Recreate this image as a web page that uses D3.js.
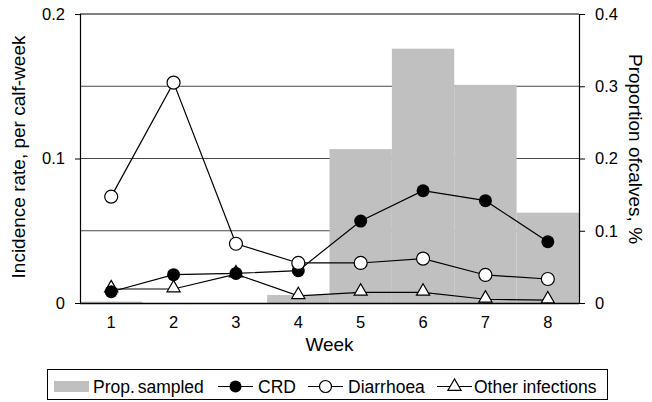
<!DOCTYPE html>
<html>
<head>
<meta charset="utf-8">
<script src="https://cdn.jsdelivr.net/npm/d3@7"></script>
<style>
  body{margin:0;background:#fff;}
  text{font-family:"Liberation Sans",Arial,sans-serif;fill:#000;}
</style>
</head>
<body>
<div id="chart"></div>
<script>
const weeks=[1,2,3,4,5,6,7,8];
const propSampled=[0.002,0,0,0.011,0.213,0.352,0.302,0.125];
const crd=[0.0078,0.0196,0.0205,0.0224,0.0567,0.0777,0.0708,0.0424];
const diarrhoea=[0.0736,0.1525,0.041,0.0277,0.0277,0.0307,0.0194,0.0166];
const other=[0.0097,0.0097,0.02,0.005,0.0074,0.0074,0.0026,0.002];
const leftTicks=[0,0.1,0.2];
const rightTicks=[0,0.1,0.2,0.3,0.4];
const gridVals=[0.05,0.1,0.15];

const w=652, h=402;
const pl=80, pr=579, pt=14, pb=303;

const svg=d3.select("#chart").append("svg").attr("width",w).attr("height",h);

const x=d3.scaleBand().domain(weeks).range([pl,pr]).padding(0);
const yL=d3.scaleLinear().domain([0,0.2]).range([pb,pt]);
const yR=d3.scaleLinear().domain([0,0.4]).range([pb,pt]);

// gridlines
svg.selectAll(".grid").data(gridVals).enter().append("line")
   .attr("x1",pl).attr("x2",pr)
   .attr("y1",d=>yL(d)).attr("y2",d=>yL(d))
   .attr("stroke","#4a4a4a").attr("stroke-width",1);

// bars
svg.selectAll(".bar").data(weeks).enter().append("rect")
   .attr("x",d=>x(d))
   .attr("width",x.bandwidth())
   .attr("y",(d,i)=>yR(propSampled[i]))
   .attr("height",(d,i)=>pb-yR(propSampled[i]))
   .attr("fill","#c0c0c0");

// top border
svg.append("line").attr("x1",pl).attr("x2",pr).attr("y1",pt).attr("y2",pt)
   .attr("stroke","#000").attr("stroke-width",1.2);

const fmt=d=>d===0?"0":d3.format(".1f")(d);

const yAxisL=d3.axisLeft(yL).tickValues(leftTicks).tickFormat(fmt).tickSize(5).tickPadding(10);
svg.append("g").attr("transform",`translate(${pl},0)`).call(yAxisL)
   .call(g=>g.selectAll("text").style("font-size","16.5px"))
   .call(g=>g.select(".domain").attr("stroke-width",1.2));

const yAxisR=d3.axisRight(yR).tickValues(rightTicks).tickFormat(fmt).tickSize(6).tickPadding(10);
svg.append("g").attr("transform",`translate(${pr},0)`).call(yAxisR)
   .call(g=>g.selectAll("text").style("font-size","16.5px"))
   .call(g=>g.select(".domain").attr("stroke-width",1.2));

const xAxis=d3.axisBottom(x).tickSize(0).tickPadding(13);
svg.append("g").attr("transform",`translate(0,${pb})`).call(xAxis)
   .call(g=>g.selectAll("text").style("font-size","16.5px"))
   .call(g=>g.select(".domain").attr("d",`M${pl},0.5H${pr}`).attr("stroke-width",1.5));

const cx=d=>x(d)+x.bandwidth()/2;
const line=arr=>d3.line().x(d=>cx(d)).y((d,i)=>yL(arr[i]))(weeks);

[other,crd,diarrhoea].forEach(arr=>{
  svg.append("path").attr("d",line(arr)).attr("fill","none").attr("stroke","#000").attr("stroke-width",1.2);
});

const tri=d3.symbol().type(d3.symbolTriangle).size(75);
svg.selectAll(".tri").data(weeks).enter().append("path")
   .attr("d",tri)
   .attr("transform",(d,i)=>`translate(${cx(d)},${yL(other[i])-1})`)
   .attr("fill","#fff").attr("stroke","#000").attr("stroke-width",1.2);

svg.selectAll(".crd").data(weeks).enter().append("circle")
   .attr("cx",cx).attr("cy",(d,i)=>yL(crd[i])).attr("r",6.5)
   .attr("fill","#000");

svg.selectAll(".dia").data(weeks).enter().append("circle")
   .attr("cx",cx).attr("cy",(d,i)=>yL(diarrhoea[i])).attr("r",6.5)
   .attr("fill","#fff").attr("stroke","#000").attr("stroke-width",1.2);

// axis titles
svg.append("text").text("Week").attr("x",(pl+pr)/2).attr("y",351)
   .attr("text-anchor","middle").style("font-size","19px");
svg.append("text").text("Incidence rate, per calf-week")
   .attr("transform",`translate(25,157) rotate(-90)`)
   .attr("text-anchor","middle").style("font-size","19px");
svg.append("text").text("Proportion ofcalves, %")
   .attr("transform",`translate(629,149) rotate(90)`)
   .attr("text-anchor","middle").style("font-size","19px");

// legend
const lg=svg.append("g");
lg.append("rect").attr("x",47.5).attr("y",369.5).attr("width",560).attr("height",30)
  .attr("fill","#fff").attr("stroke","#000").attr("stroke-width",1);
lg.append("rect").attr("x",54).attr("y",381).attr("width",35).attr("height",11).attr("fill","#c0c0c0");
const ly=386.5;
const legItems=[
  {x1:218,x2:253,type:"crd",label:"CRD",tx:258},
  {x1:308,x2:343,type:"dia",label:"Diarrhoea",tx:348},
  {x1:437,x2:472,type:"oth",label:"Other infections",tx:474}
];
lg.append("text").text("Prop. sampled").attr("x",93).attr("y",392.5)
  .style("font-size","17.5px").style("word-spacing","-2px");
legItems.forEach(it=>{
  lg.append("line").attr("x1",it.x1).attr("x2",it.x2).attr("y1",ly).attr("y2",ly).attr("stroke","#000").attr("stroke-width",1.2);
  const m=(it.x1+it.x2)/2;
  if(it.type==="crd") lg.append("circle").attr("cx",m).attr("cy",ly).attr("r",6).attr("fill","#000");
  if(it.type==="dia") lg.append("circle").attr("cx",m).attr("cy",ly).attr("r",6).attr("fill","#fff").attr("stroke","#000").attr("stroke-width",1.2);
  if(it.type==="oth") lg.append("path").attr("d",tri).attr("transform",`translate(${m},${ly})`).attr("fill","#fff").attr("stroke","#000").attr("stroke-width",1.2);
  lg.append("text").text(it.label).attr("x",it.tx).attr("y",392.5).style("font-size","17.5px");
});
</script>
</body>
</html>
